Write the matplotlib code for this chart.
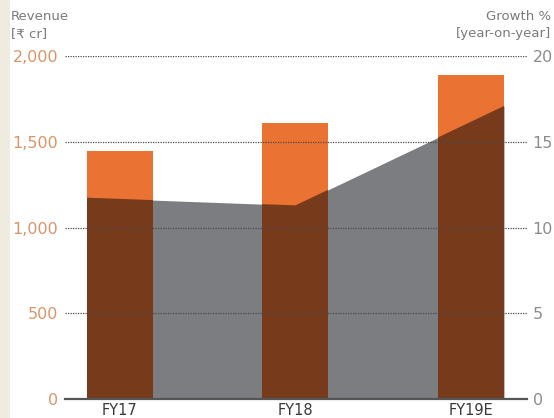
import matplotlib
matplotlib.use("Agg")
import matplotlib.pyplot as plt
from matplotlib.patches import Polygon, Rectangle
import numpy as np

# Data
years = ["FY17", "FY18", "FY19E"]
revenue = [1450, 1610, 1890]          # Rs crore
growth = [11.75, 11.3, 17.1]          # % year-on-year
rev_ticks = [0, 500, 1000, 1500, 2000]
rev_labels = ["0", "500", "1,000", "1,500", "2,000"]
growth_ticks = [0, 5, 10, 15, 20]

ORANGE = "#ea7233"
BROWN = "#773a1b"
GREY = "#7c7d81"
LEFT_TXT = "#d99569"
RIGHT_TXT = "#8c8c8c"

plt.rcParams["font.family"] = ["DejaVu Sans"]

fig = plt.figure(figsize=(5.54, 4.18), dpi=100, facecolor="white")
# beige margin strip on the left
fig.patches.append(Rectangle((0, 0), 10 / 554, 1, transform=fig.transFigure,
                             facecolor="#efebdf", edgecolor="none", zorder=0))

rect = [65 / 554, 19 / 418, (527 - 65) / 554, (399 - 56.3) / 418]
ax = fig.add_axes(rect)
ax2 = ax.twinx()
ax.set_zorder(ax2.get_zorder() + 1)
ax.patch.set_visible(False)

x = np.arange(len(years))
width = 0.376

# growth area on the secondary axis, spanning the outer bar edges
gx = np.linspace(x[0] - width / 2, x[-1] + width / 2, len(growth))
ax2.fill_between(gx, 0, growth, color=GREY, linewidth=0, zorder=1)
ax2.set_ylim(0, 20)

# revenue bars
ax.bar(x, revenue, width=width, color=ORANGE, linewidth=0, zorder=2)
area_poly = Polygon(np.column_stack([np.r_[gx, gx[::-1]],
                                     np.r_[growth, np.zeros(len(growth))]]),
                    closed=True, transform=ax2.transData)
dark = ax.bar(x, revenue, width=width, color=BROWN, linewidth=0, zorder=3)
for p in dark:
    p.set_clip_path(area_poly)

ax.set_xlim(-0.313, 2.319)
ax.set_ylim(0, 2000)
for v in rev_ticks[1:]:
    ax.axhline(v, color="#4a4a4a", linestyle=(0, (1, 1)), linewidth=0.9, zorder=5)

for a in (ax, ax2):
    for s in ("top", "right", "left"):
        a.spines[s].set_visible(False)
    a.spines["bottom"].set_visible(False)
ax.axhline(0, color="#555555", linewidth=1.6, zorder=6, clip_on=False)

ax.set_yticks(rev_ticks, rev_labels)
ax.tick_params(axis="y", length=0, pad=5, labelsize=11.5, labelcolor=LEFT_TXT)
ax2.set_yticks(growth_ticks, [str(t) for t in growth_ticks])
ax2.tick_params(axis="y", length=0, pad=4, labelsize=11.5, labelcolor=RIGHT_TXT)
ax.set_xticks(x, years)
ax.tick_params(axis="x", length=0, pad=3, labelsize=10.5, labelcolor="#3a3a3a")
ax2.tick_params(axis="x", length=0)

fig.text(11 / 554, 1 - 17 / 418, "Revenue", fontsize=9.5, color="#7a7a7a",
         ha="left", va="center")
fig.text(11 / 554, 1 - 34 / 418, "[\u20b9 cr]", fontsize=9.5, color="#7a7a7a",
         ha="left", va="center")
fig.text(551 / 554, 1 - 17 / 418, "Growth %", fontsize=9.5, color="#7a7a7a",
         ha="right", va="center")
fig.text(551 / 554, 1 - 34 / 418, "[year-on-year]", fontsize=9.5, color="#7a7a7a",
         ha="right", va="center")

fig.savefig("out.png", dpi=100, facecolor="white")
